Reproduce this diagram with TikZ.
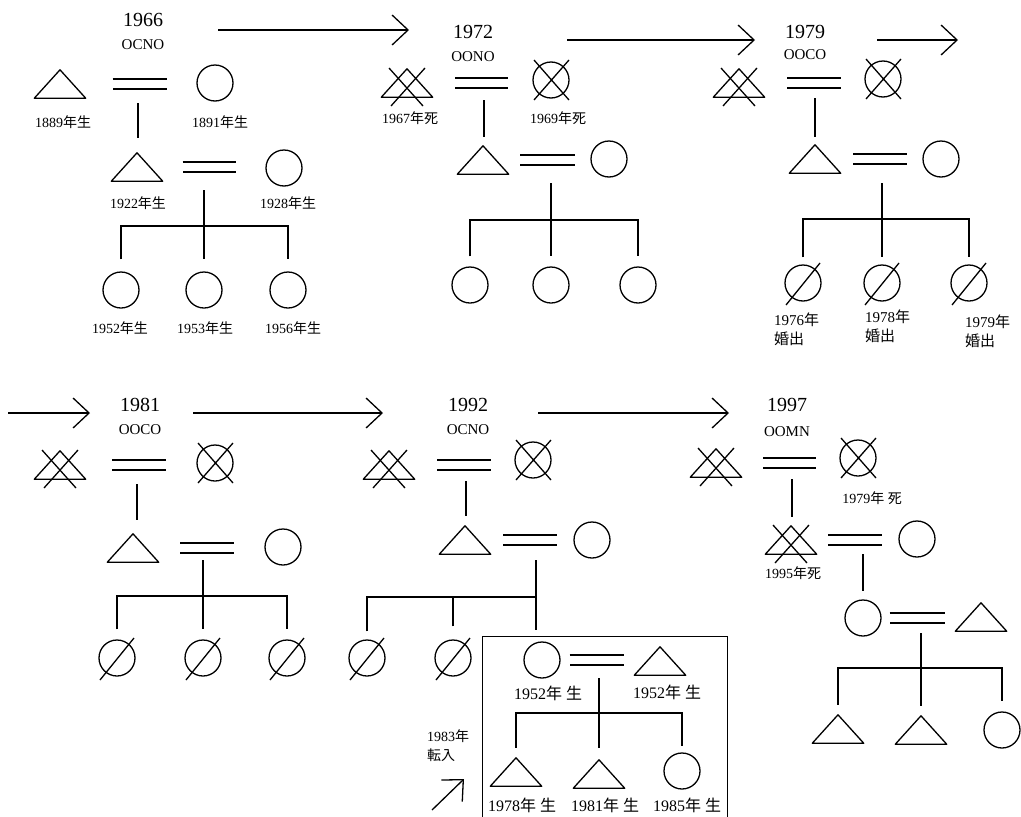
\documentclass[tikz,border=0pt]{standalone}
\usepackage{fontspec}
\setmainfont{Liberation Serif}
\newfontfamily\jpfont{Noto Sans CJK JP}
\newcommand{\jp}[1]{{\jpfont #1}}
\usetikzlibrary{arrows.meta}

\begin{document}
\begin{tikzpicture}[x=1pt, y=-1pt,
  sym/.style={line width=1.3pt, line join=round},
  kin/.style={line width=1.3pt},
  marry/.style={draw, line width=1.3pt, double, double distance=8.6pt},
  flow/.style={line width=1.3pt, -{Straight Barb[length=16pt, width=30pt]}},
  male/.style={
    rectangle, minimum width=51pt, minimum height=28pt, inner sep=0pt,
    append after command={\pgfextra{\draw[sym] (\tikzlastnode.south west) -- (\tikzlastnode.south east) -- (\tikzlastnode.north) -- cycle;}}
  },
  female/.style={circle, draw, line width=1.3pt, minimum size=36pt, inner sep=0pt},
  deadm/.style={
    append after command={\pgfextra{\draw[sym]
      ([shift={(-18pt,15pt)}]\tikzlastnode.center) -- ([shift={(16pt,-23pt)}]\tikzlastnode.center)
      ([shift={(18pt,15pt)}]\tikzlastnode.center) -- ([shift={(-16pt,-23pt)}]\tikzlastnode.center);}}
  },
  deadf/.style={
    append after command={\pgfextra{\draw[sym]
      ([shift={(-17pt,20pt)}]\tikzlastnode.center) -- ([shift={(18pt,-20pt)}]\tikzlastnode.center)
      ([shift={(18pt,20pt)}]\tikzlastnode.center) -- ([shift={(-17pt,-20pt)}]\tikzlastnode.center);}}
  },
  gone/.style={
    append after command={\pgfextra{\draw[sym]
      ([shift={(-17pt,-22pt)}]\tikzlastnode.center) -- ([shift={(17pt,20pt)}]\tikzlastnode.center);}}
  },
  year/.style={font=\fontsize{20}{22}\selectfont, inner sep=0pt},
  code/.style={font=\fontsize{15}{17}\selectfont, inner sep=0pt},
  lbl/.style={font=\fontsize{14}{16}\selectfont, inner sep=0pt},
  lblb/.style={font=\fontsize{16}{18}\selectfont, inner sep=0pt},
  note/.style={font=\fontsize{15}{19}\selectfont, align=left, anchor=north west, inner sep=0pt}
]
\useasboundingbox (0,0) rectangle (1021,817);

% 1966
\node[year] (yA) at (143,20) {1966};
\node[code] (cA) at (143,45) {OCNO};
\node[male] (A1) at (60,84) {};
\node[female] (A2) at (215,83) {};
\draw[marry, shorten <=27pt, shorten >=29pt] (A1.east) -- (A1.east -| A2.west);
\node[lbl] (A1t) at (63,122) {1889\jp{年生}};
\node[lbl] (A2t) at (220,122) {1891\jp{年生}};
\coordinate (uA) at (138,84);
\node[male] (A3) at (137,167) {};
\node[female] (A4) at (284,168) {};
\draw[kin, shorten <=19pt, shorten >=15pt] (uA) -- (uA |- A3.north);
\draw[marry, shorten <=20pt, shorten >=29pt] (A3.east) -- (A3.east -| A4.west);
\node[lbl] (A3t) at (138,203) {1922\jp{年生}};
\node[lbl] (A4t) at (288,203) {1928\jp{年生}};
\coordinate (jA) at (204,226);
\node[female] (A5) at (121,290) {};
\node[female] (A6) at (204,290) {};
\node[female] (A7) at (288,290) {};
\draw[kin] ([yshift=36pt]jA) -- ([yshift=12pt]A6.north);
\draw[kin] ([yshift=12pt]A5.north) |- (jA) -| ([yshift=12pt]A7.north);
\node[lbl] (A5t) at (120,328) {1952\jp{年生}};
\node[lbl] (A6t) at (205,328) {1953\jp{年生}};
\node[lbl] (A7t) at (293,328) {1956\jp{年生}};
\coordinate (fA) at (218,30);
\coordinate (fB) at (409,30);
\draw[flow] (fA) -- (fB);

% 1972
\node[year] (yB) at (473,32) {1972};
\node[code] (cB) at (473,57) {OONO};
\node[male, deadm] (B1) at (407,83) {};
\node[female, deadf] (B2) at (551,80) {};
\draw[marry, shorten <=22.5pt, shorten >=24pt] (B1.east) -- (B1.east -| B2.west);
\node[lbl] (B1t) at (410,118) {1967\jp{年死}};
\node[lbl] (B2t) at (558,118) {1969\jp{年死}};
\coordinate (uB) at (484,83);
\node[male] (B3) at (483,160) {};
\node[female] (B4) at (609,159) {};
\draw[kin, shorten <=17pt, shorten >=9pt] (uB) -- (uB |- B3.north);
\draw[marry, shorten <=11.5pt, shorten >=15pt] (B3.east) -- (B3.east -| B4.west);
\coordinate (jB) at (551,220);
\node[female] (B5) at (470,285) {};
\node[female] (B6) at (551,285) {};
\node[female] (B7) at (638,285) {};
\draw[kin] ([yshift=37pt]jB) -- ([yshift=10pt]B6.north);
\draw[kin] ([yshift=10pt]B5.north) |- (jB) -| ([yshift=10pt]B7.north);
\coordinate (fC) at (567,40);
\coordinate (fD) at (755,40);
\draw[flow] (fC) -- (fD);

% 1979
\node[year] (yC) at (805,32) {1979};
\node[code] (cC) at (805,55) {OOCO};
\node[male, deadm] (C1) at (739,83) {};
\node[female, deadf] (C2) at (883,79) {};
\draw[marry, shorten <=22.5pt, shorten >=23pt] (C1.east) -- (C1.east -| C2.west);
\coordinate (uC) at (815,83);
\node[male] (C3) at (815,159) {};
\node[female] (C4) at (941,159) {};
\draw[kin, shorten <=15pt, shorten >=8pt] (uC) -- (uC |- C3.north);
\draw[marry, shorten <=12.5pt, shorten >=15pt] (C3.east) -- (C3.east -| C4.west);
\coordinate (jC) at (882,219);
\node[female, gone] (C5) at (803,283) {};
\node[female, gone] (C6) at (882,283) {};
\node[female, gone] (C7) at (969,283) {};
\draw[kin] ([yshift=36pt]jC) -- ([yshift=7pt]C6.north);
\draw[kin] ([yshift=7pt]C5.north) |- (jC) -| ([yshift=7pt]C7.north);
\node[note] (C5t) at (774,313) {1976\jp{年}\\\jp{婚出}};
\node[note] (C6t) at (865,310) {1978\jp{年}\\\jp{婚出}};
\node[note] (C7t) at (965,315) {1979\jp{年}\\\jp{婚出}};
\coordinate (fE) at (877,40);
\coordinate (fF) at (958,40);
\draw[flow] (fE) -- (fF);

% 1981
\coordinate (fG) at (8,413);
\coordinate (fH) at (90,413);
\draw[flow] (fG) -- (fH);
\node[year] (yD) at (140,405) {1981};
\node[code] (cD) at (140,430) {OOCO};
\node[male, deadm] (D1) at (60,465) {};
\node[female, deadf] (D2) at (215,463) {};
\draw[marry, shorten <=26.5pt, shorten >=30pt] (D1.east) -- (D1.east -| D2.west);
\coordinate (uD) at (137,465);
\node[male] (D3) at (133,548) {};
\node[female] (D4) at (283,547) {};
\draw[kin, shorten <=19pt, shorten >=14pt] (uD) -- (uD |- D3.north);
\draw[marry, shorten <=21.5pt, shorten >=30pt] (D3.east) -- (D3.east -| D4.west);
\coordinate (jD) at (203,596);
\node[female, gone] (D5) at (117,658) {};
\node[female, gone] (D6) at (203,658) {};
\node[female, gone] (D7) at (287,658) {};
\draw[kin] ([yshift=36pt]jD) -- ([yshift=10pt]D6.north);
\draw[kin] ([yshift=10pt]D5.north) |- (jD) -| ([yshift=10pt]D7.north);
\coordinate (fI) at (193,413);
\coordinate (fJ) at (383,413);
\draw[flow] (fI) -- (fJ);

% 1992
\node[year] (yE) at (468,405) {1992};
\node[code] (cE) at (468,430) {OCNO};
\node[male, deadm] (E1) at (389,465) {};
\node[female, deadf] (E2) at (533,460) {};
\draw[marry, shorten <=22.5pt, shorten >=23pt] (E1.east) -- (E1.east -| E2.west);
\coordinate (uE) at (466,464);
\node[male] (E3) at (465,540) {};
\node[female] (E4) at (592,540) {};
\draw[kin, shorten <=17pt, shorten >=10pt] (uE) -- (uE |- E3.north);
\draw[marry, shorten <=12.5pt, shorten >=16pt] (E3.east) -- (E3.east -| E4.west);
\coordinate (jE) at (536,597);
\node[female, gone] (E5) at (367,658) {};
\node[female, gone] (E6) at (453,658) {};
\draw[kin] ([yshift=37pt]jE) -- ([yshift=-33pt]jE);
\draw[kin] ([yshift=8pt]E5.north) |- (jE);
\draw[kin] ([yshift=13pt]E6.north) -- (E6.north |- jE);
\coordinate (fK) at (538,413);
\coordinate (fL) at (729,413);
\draw[flow] (fK) -- (fL);

% household moved in
\node[draw, line width=1.3pt, minimum width=245pt, minimum height=200pt, inner sep=0pt, anchor=north west] (box) at (482,636) {};
\node[female] (F1) at (542,660) {};
\node[male] (F2) at (660,661) {};
\draw[marry, shorten <=9pt, shorten >=10.5pt] (F1.east) -- (F1.east -| F2.west);
\node[lblb] (F1t) at (548,693) {1952\jp{年} \jp{生}};
\node[lblb] (F2t) at (667,692) {1952\jp{年} \jp{生}};
\coordinate (jF) at (599,713);
\node[male] (F3) at (516,772) {};
\node[male] (F4) at (599,774) {};
\node[female] (F5) at (682,771) {};
\draw[kin] ([yshift=35pt]jF) -- ([yshift=12pt]F4.north);
\draw[kin] ([yshift=10pt]F3.north) |- (jF) -| ([yshift=6pt]F5.north);
\node[lblb] (F3t) at (522,805) {1978\jp{年} \jp{生}};
\node[lblb] (F4t) at (605,805) {1981\jp{年} \jp{生}};
\node[lblb] (F5t) at (687,805) {1985\jp{年} \jp{生}};
\node[note, font=\fontsize{14}{19}\selectfont] (inT) at (427,729) {1983\jp{年}\\\jp{転入}};
\coordinate (inS) at (432,810);
\coordinate (inE) at (464,779);
\draw[flow] (inS) -- (inE);

% 1997
\node[year] (yG) at (787,405) {1997};
\node[code] (cG) at (787,432) {OOMN};
\node[male, deadm] (G1) at (716,463) {};
\node[female, deadf] (G2) at (858,458) {};
\draw[marry, shorten <=21.5pt, shorten >=23pt] (G1.east) -- (G1.east -| G2.west);
\node[lbl] (G2t) at (872,498) {1979\jp{年} \jp{死}};
\coordinate (uG) at (792,463);
\node[male, deadm] (G3) at (791,540) {};
\node[female] (G4) at (917,539) {};
\draw[kin, shorten <=16pt, shorten >=9pt] (uG) -- (uG |- G3.north);
\draw[marry, shorten <=11.5pt, shorten >=16pt] (G3.east) -- (G3.east -| G4.west);
\node[lbl] (G3t) at (793,573) {1995\jp{年死}};
\coordinate (uH) at (863,541);
\node[female] (G5) at (863,618) {};
\node[male] (G6) at (981,617) {};
\draw[kin, shorten <=13pt, shorten >=8pt] (uH) -- (uH |- G5.north);
\draw[marry, shorten <=8pt, shorten >=10.5pt] (G5.east) -- (G5.east -| G6.west);
\coordinate (jG) at (921,668);
\node[male] (G7) at (838,729) {};
\node[male] (G8) at (921,730) {};
\node[female] (G9) at (1002,730) {};
\draw[kin] ([yshift=35pt]jG) -- ([yshift=10pt]G8.north);
\draw[kin] ([yshift=10pt]G7.north) |- (jG) -| ([yshift=10pt]G9.north);

\end{tikzpicture}
\end{document}
